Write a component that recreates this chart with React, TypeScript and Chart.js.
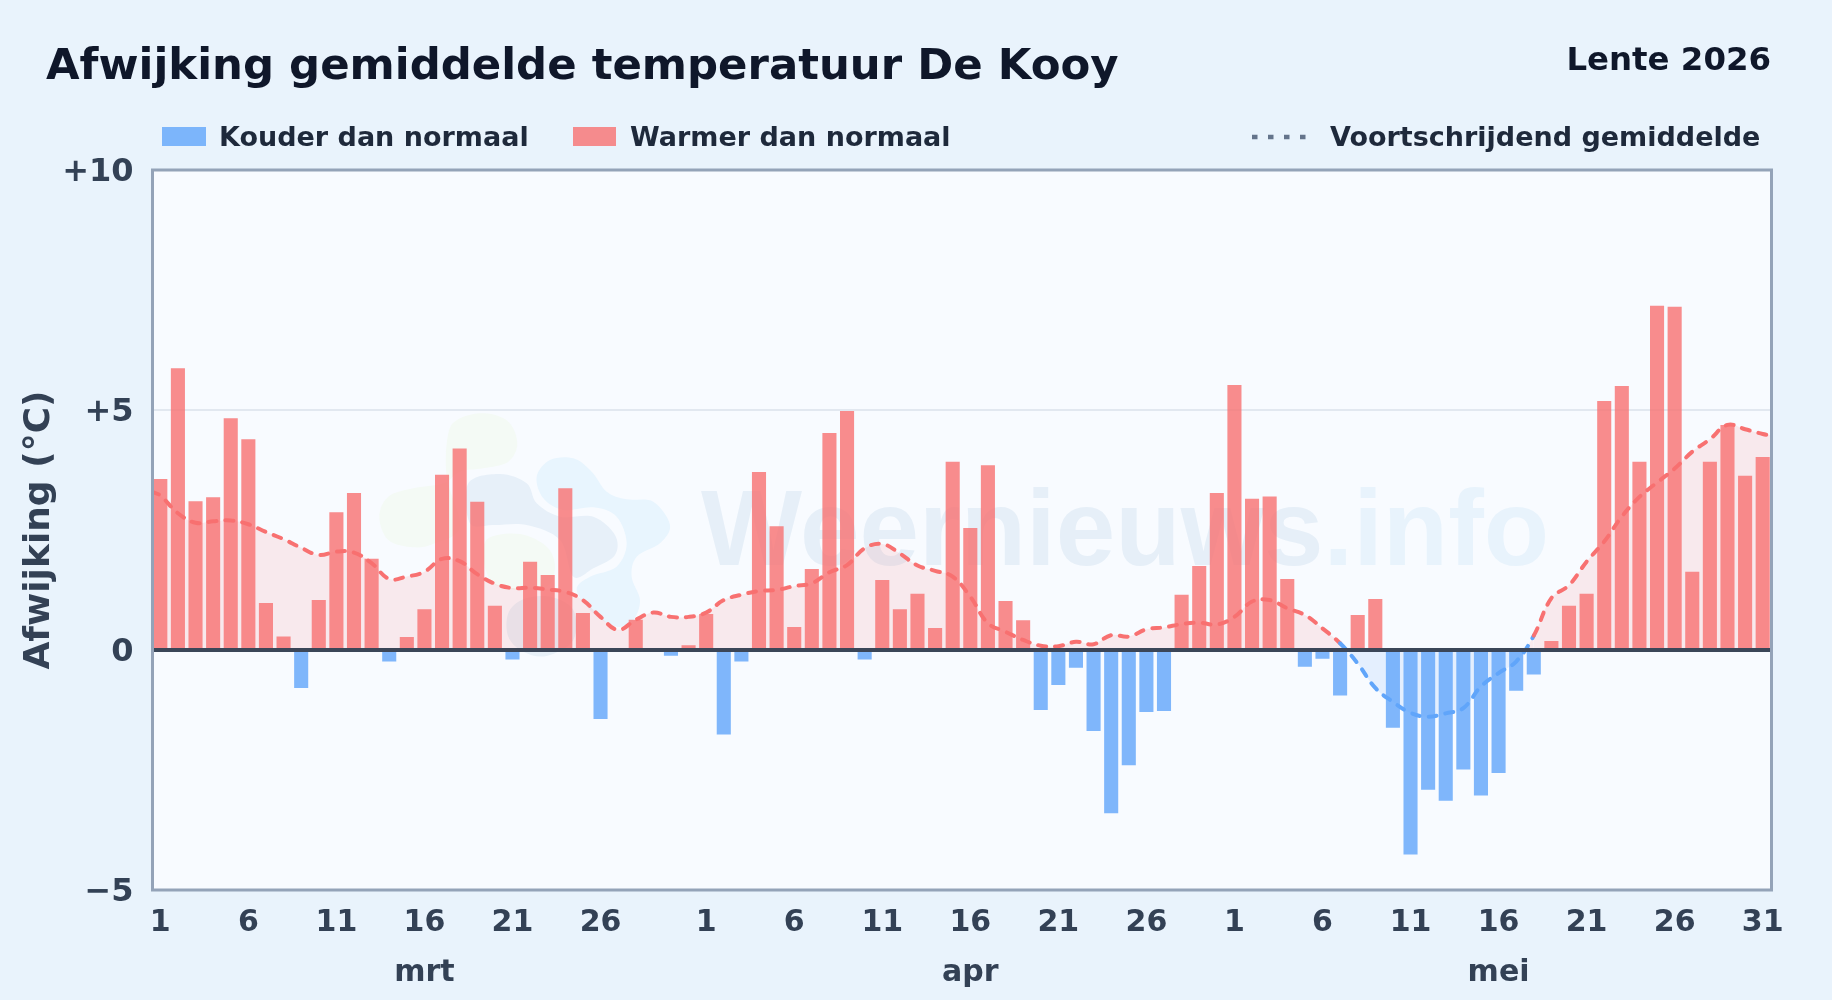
import React, { useEffect, useRef } from "react";
import { Chart, registerables } from "chart.js";

Chart.register(...registerables);

const FONT = '"DejaVu Sans"';

const months = ["mrt", "apr", "mei"];
const monthDays = [31, 30, 31];
const marchTicks = [1, 6, 11, 16, 21, 26];
const aprilTicks = [1, 6, 11, 16, 21, 26];
const mayTicks = [1, 6, 11, 16, 21, 26, 31];
const yTickLabels: Record<number, string> = { 10: "+10", 5: "+5", 0: "0", [-5]: "\u22125" };

const marchValues = [3.56, 5.87, 3.1, 3.18, 4.83, 4.39, 0.98, 0.28, -0.79, 1.04, 2.87, 3.27, 1.9, -0.24, 0.27, 0.85, 3.65, 4.2, 3.09, 0.92, -0.2, 1.84, 1.56, 3.37, 0.77, -1.44, 0, 0.63, 0, -0.12, 0.1];
const aprilValues = [0.75, -1.76, -0.24, 3.71, 2.58, 0.48, 1.69, 4.52, 4.98, -0.2, 1.46, 0.85, 1.17, 0.46, 3.92, 2.54, 3.85, 1.02, 0.62, -1.25, -0.73, -0.37, -1.69, -3.4, -2.4, -1.29, -1.27, 1.15, 1.75, 3.27];
const mayValues = [5.52, 3.15, 3.2, 1.48, -0.35, -0.18, -0.95, 0.73, 1.06, -1.62, -4.26, -2.91, -3.14, -2.49, -3.03, -2.56, -0.85, -0.51, 0.19, 0.92, 1.17, 5.19, 5.5, 3.92, 7.17, 7.15, 1.63, 3.92, 4.69, 3.63, 4.02];

const marchAverage = [3.22, 2.85, 2.65, 2.68, 2.7, 2.62, 2.46, 2.31, 2.13, 1.98, 2.05, 2.03, 1.81, 1.48, 1.53, 1.63, 1.9, 1.85, 1.58, 1.38, 1.29, 1.3, 1.26, 1.21, 1.04, 0.69, 0.42, 0.63, 0.78, 0.69, 0.69];
const aprilAverage = [0.78, 1.04, 1.15, 1.23, 1.25, 1.33, 1.39, 1.62, 1.77, 2.12, 2.21, 2.01, 1.76, 1.65, 1.53, 1.11, 0.56, 0.38, 0.21, 0.09, 0.08, 0.17, 0.12, 0.31, 0.28, 0.43, 0.47, 0.54, 0.57, 0.53];
const mayAverage = [0.69, 1.01, 1.04, 0.87, 0.73, 0.45, 0.14, -0.28, -0.79, -1.08, -1.31, -1.39, -1.32, -1.21, -0.76, -0.48, -0.24, 0.3, 1.08, 1.35, 1.84, 2.26, 2.78, 3.19, 3.49, 3.78, 4.13, 4.39, 4.69, 4.6, 4.5];
const averageAtLeftEdge = 3.3;
const averageAtRightEdge = 4.47;

const dailyValues = [...marchValues, ...aprilValues, ...mayValues];
const averageValues = [...marchAverage, ...aprilAverage, ...mayAverage];
const coldValues = dailyValues.map((v) => (v < 0 ? v : null));
const warmValues = dailyValues.map((v) => (v >= 0 ? v : null));
const averagePoints = [
  { x: -0.5, y: averageAtLeftEdge },
  ...averageValues.map((y, i) => ({ x: i, y })),
  { x: averageValues.length - 0.5, y: averageAtRightEdge },
];

const tickSets = [marchTicks, aprilTicks, mayTicks];
const dayLabels: string[] = [];
monthDays.forEach((n, m) => {
  for (let d = 1; d <= n; d++) dayLabels.push(tickSets[m].includes(d) ? String(d) : "");
});

// Watermark logo outline points, in page pixels
const blob = (pts: number[][]) => pts.map(([x, y]) => [360 + x / 3, 400 + y / 3]);
const logoBlobs: { color: string; pts: number[][] }[] = [
  { color: "#f4faf5", pts: blob([[265, 100], [300, 55], [375, 40], [445, 65], [472, 130], [445, 185], [370, 205], [300, 215], [250, 250], [160, 265], [85, 290], [58, 350], [85, 420], [160, 442], [225, 430], [300, 380], [260, 230]]) },
  { color: "#f4faf5", pts: blob([[385, 415], [480, 402], [560, 440], [585, 500], [560, 560], [470, 570], [400, 550], [370, 480]]) },
  { color: "#e7f0f9", pts: blob([[325, 250], [420, 222], [500, 250], [530, 310], [600, 350], [700, 350], [765, 405], [765, 465], [700, 505], [640, 530], [600, 420], [500, 375], [400, 375], [330, 370]]) },
  { color: "#e7f0f8", pts: blob([[445, 640], [490, 598], [570, 590], [640, 630], [640, 720], [560, 768], [490, 755], [445, 710]]) },
  { color: "#e8f5fe", pts: blob([[530, 230], [570, 180], [640, 175], [695, 215], [740, 275], [800, 298], [880, 305], [930, 375], [900, 430], [830, 470], [815, 530], [840, 600], [820, 660], [770, 680], [700, 640], [650, 570], [690, 530], [770, 500], [800, 430], [770, 350], [700, 322], [610, 330], [550, 295]]) },
];

function smoothClosed(ctx: CanvasRenderingContext2D, pts: number[][]) {
  const n = pts.length;
  ctx.beginPath();
  ctx.moveTo(pts[0][0], pts[0][1]);
  for (let i = 0; i < n; i++) {
    const p0 = pts[(i - 1 + n) % n], p1 = pts[i], p2 = pts[(i + 1) % n], p3 = pts[(i + 2) % n];
    ctx.bezierCurveTo(p1[0] + (p2[0] - p0[0]) / 6, p1[1] + (p2[1] - p0[1]) / 6, p2[0] - (p3[0] - p1[0]) / 6, p2[1] - (p3[1] - p1[1]) / 6, p2[0], p2[1]);
  }
  ctx.closePath();
}

const text = (ctx: CanvasRenderingContext2D, s: string, x: number, y: number, font: string, color: string, align: CanvasTextAlign = "left") => {
  ctx.font = font;
  ctx.fillStyle = color;
  ctx.textAlign = align;
  ctx.textBaseline = "alphabetic";
  ctx.fillText(s, x, y);
};

const decorations = {
  id: "decorations",
  beforeDraw(chart: any) {
    // nudge the y tick labels down to sit on their value
    const items = chart.scales.y.getLabelItems(chart.chartArea);
    items.forEach((it: any) => {
      if (!it.__moved) {
        it.options.translation[1] += 3;
        it.__moved = true;
      }
    });
  },
  beforeDatasetsDraw(chart: any) {
    const { ctx, chartArea: a } = chart;
    ctx.save();
    ctx.fillStyle = "#f8fbff";
    ctx.fillRect(a.left, a.top, a.right - a.left, a.bottom - a.top);
    const y5 = chart.scales.y.getPixelForValue(5);
    ctx.strokeStyle = "#e2e8f0";
    ctx.lineWidth = 2;
    ctx.beginPath();
    ctx.moveTo(a.left, y5);
    ctx.lineTo(a.right, y5);
    ctx.stroke();
    logoBlobs.forEach((b) => {
      smoothClosed(ctx, b.pts);
      ctx.fillStyle = b.color;
      ctx.fill();
    });
    const wmFont = `bold 107px "Liberation Sans"`;
    text(ctx, "Weernieuws", 701, 565, wmFont, "#e6eff8");
    const w = ctx.measureText("Weernieuws").width;
    text(ctx, ".info", 701 + w, 565, wmFont, "#e8f3fc");
    ctx.restore();
  },
  afterDatasetsDraw(chart: any) {
    const { ctx, chartArea: a } = chart;
    ctx.save();
    const y0 = chart.scales.y.getPixelForValue(0);
    ctx.strokeStyle = "#3b4658";
    ctx.lineWidth = 4;
    ctx.beginPath();
    ctx.moveTo(a.left + 1, y0);
    ctx.lineTo(a.right, y0);
    ctx.stroke();
    ctx.strokeStyle = "#94a3b8";
    ctx.lineWidth = 3;
    ctx.strokeRect(a.left + 1, a.top, a.right - a.left - 1, a.bottom - a.top);
    ctx.restore();
  },
  afterDraw(chart: any) {
    const { ctx } = chart;
    ctx.save();
    text(ctx, "Afwijking gemiddelde temperatuur De Kooy", 46, 79, `bold 43.4px ${FONT}`, "#0f172a");
    text(ctx, "Lente 2026", 1771, 70, `bold 32.4px ${FONT}`, "#0f172a", "right");
    const legendFont = `bold 27px ${FONT}`;
    ctx.fillStyle = "rgba(96,165,250,0.8)";
    ctx.fillRect(162, 127, 44, 19);
    text(ctx, "Kouder dan normaal", 219, 146, legendFont, "#1e293b");
    ctx.fillStyle = "rgba(248,113,113,0.8)";
    ctx.fillRect(573, 127, 43, 19);
    text(ctx, "Warmer dan normaal", 630, 146, legendFont, "#1e293b");
    ctx.strokeStyle = "#64748b";
    ctx.lineWidth = 4.5;
    ctx.setLineDash([5.5, 10.5]);
    ctx.beginPath();
    ctx.moveTo(1252, 137);
    ctx.lineTo(1308, 137);
    ctx.stroke();
    ctx.setLineDash([]);
    text(ctx, "Voortschrijdend gemiddelde", 1330, 146, legendFont, "#1e293b");
    let first = 0;
    months.forEach((m, i) => {
      const x = chart.scales.x.getPixelForValue(first + 15);
      text(ctx, m, x, 981, `bold 30px ${FONT}`, "#334155", "center");
      first += monthDays[i];
    });
    ctx.restore();
  },
};

export default function App() {
  const ref = useRef<HTMLCanvasElement>(null);
  useEffect(() => {
    document.body.style.margin = "0";
    document.body.style.background = "#e9f3fc";
    const chart = new Chart(ref.current!, {
      type: "bar",
      data: {
        labels: dailyValues.map((_, i) => i),
        datasets: [
          {
            type: "line",
            label: "Voortschrijdend gemiddelde",
            data: averagePoints,
            xAxisID: "x2",
            order: 2,
            borderColor: "#f87171",
            borderWidth: 4,
            borderDash: [8, 9],
            borderCapStyle: "round",
            pointRadius: 0,
            tension: 0.4,
            fill: { target: { value: 0 }, above: "rgba(248,113,113,0.13)", below: "rgba(96,165,250,0.13)" },
            segment: {
              borderColor: (c: any) => (c.p0.parsed.y < 0 || c.p1.parsed.y < 0 ? "#60a5fa" : "#f87171"),
            },
          } as any,
          {
            label: "Kouder dan normaal",
            data: coldValues,
            order: 1,
            grouped: false,
            backgroundColor: "rgba(96,165,250,0.8)",
            barPercentage: 0.8,
            categoryPercentage: 1,
          } as any,
          {
            label: "Warmer dan normaal",
            data: warmValues,
            order: 1,
            grouped: false,
            backgroundColor: "rgba(248,113,113,0.8)",
            barPercentage: 0.8,
            categoryPercentage: 1,
          } as any,
        ],
      },
      options: {
        animation: false,
        responsive: false,
        devicePixelRatio: 1,
        layout: { padding: { top: 170, right: 60.5, left: 0, bottom: 0 } },
        plugins: { legend: { display: false }, tooltip: { enabled: false }, title: { display: false } },
        scales: {
          x: {
            grid: { display: false },
            border: { display: false },
            afterFit: (s: any) => { s.height = 110; },
            ticks: {
              autoSkip: false,
              maxRotation: 0,
              minRotation: 0,
              padding: 7,
              color: "#334155",
              font: { family: FONT, size: 30, weight: "bold" },
              callback: (_: any, i: number) => dayLabels[i],
            },
          },
          x2: { type: "linear", display: false, offset: false, min: -0.5, max: averageValues.length - 0.5 },
          y: {
            min: -5,
            max: 10,
            grid: { display: false, drawTicks: false },
            border: { display: false },
            afterFit: (s: any) => { s.width = 151.5; },
            ticks: {
              stepSize: 5,
              padding: 18,
              color: "#334155",
              font: { family: FONT, size: 32, weight: "bold" },
              callback: (v: any) => yTickLabels[v],
            },
            title: {
              display: true,
              text: "Afwijking (\u00b0C)",
              color: "#334155",
              padding: { top: 18, bottom: 0 },
              font: { family: FONT, size: 36, weight: "bold" },
            },
          },
        },
      },
      plugins: [decorations],
    } as any);
    return () => chart.destroy();
  }, []);
  return <canvas ref={ref} width={1832} height={1000} style={{ display: "block" }} />;
}
